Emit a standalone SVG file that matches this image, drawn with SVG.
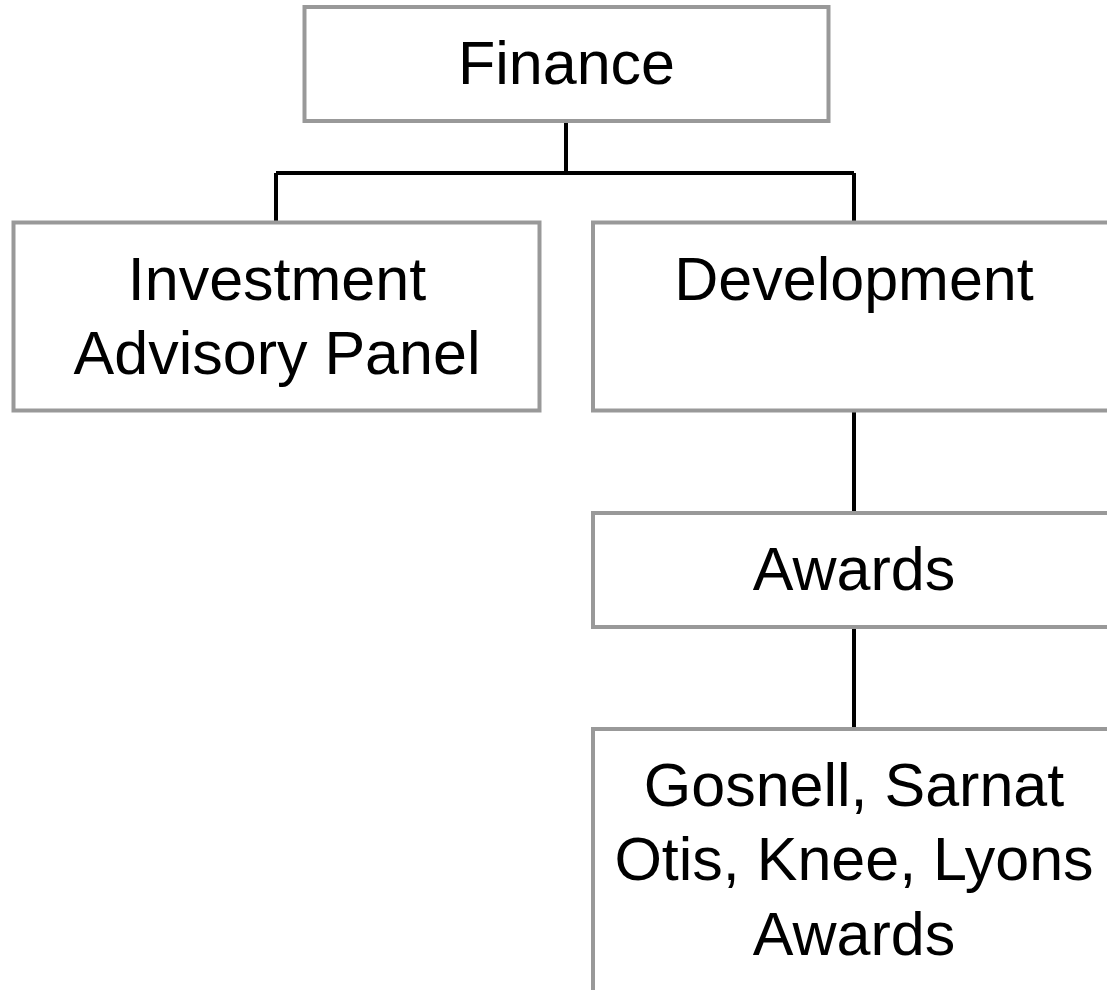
<svg xmlns="http://www.w3.org/2000/svg" width="1107" height="990" viewBox="0 0 1107 990">
<style>
.box{fill:#fff;stroke:#999;stroke-width:4}
.t{font-family:"Liberation Sans",Arial,sans-serif;font-size:61px;fill:#000;text-anchor:middle}
.c{stroke:#000;stroke-width:4;fill:none}
</style>
<rect width="1107" height="990" fill="#fff"/>
<g id="connectors">
<path class="c" d="M566 122V173M276 173H854M276 173V222M854 173V222"/>
<path class="c" d="M854 411V513"/>
<path class="c" d="M854 627V729"/>
</g>
<g id="finance">
<rect class="box" x="304.5" y="7" width="524" height="114"/>
<text class="t" x="566.5" y="84">Finance</text>
</g>
<g id="investment">
<rect class="box" x="13.5" y="222.5" width="526" height="188"/>
<text class="t" x="277" y="300">Investment</text>
<text class="t" x="277" y="374">Advisory Panel</text>
</g>
<g id="development">
<rect class="box" x="593" y="222.5" width="524" height="188"/>
<text class="t" x="854" y="300">Development</text>
</g>
<g id="awards">
<rect class="box" x="593" y="513" width="524" height="114"/>
<text class="t" x="854" y="590">Awards</text>
</g>
<g id="named-awards">
<rect class="box" x="593" y="729" width="524" height="300"/>
<text class="t" x="854" y="806">Gosnell, Sarnat</text>
<text class="t" x="854" y="880">Otis, Knee, Lyons</text>
<text class="t" x="854" y="955">Awards</text>
</g>
</svg>
